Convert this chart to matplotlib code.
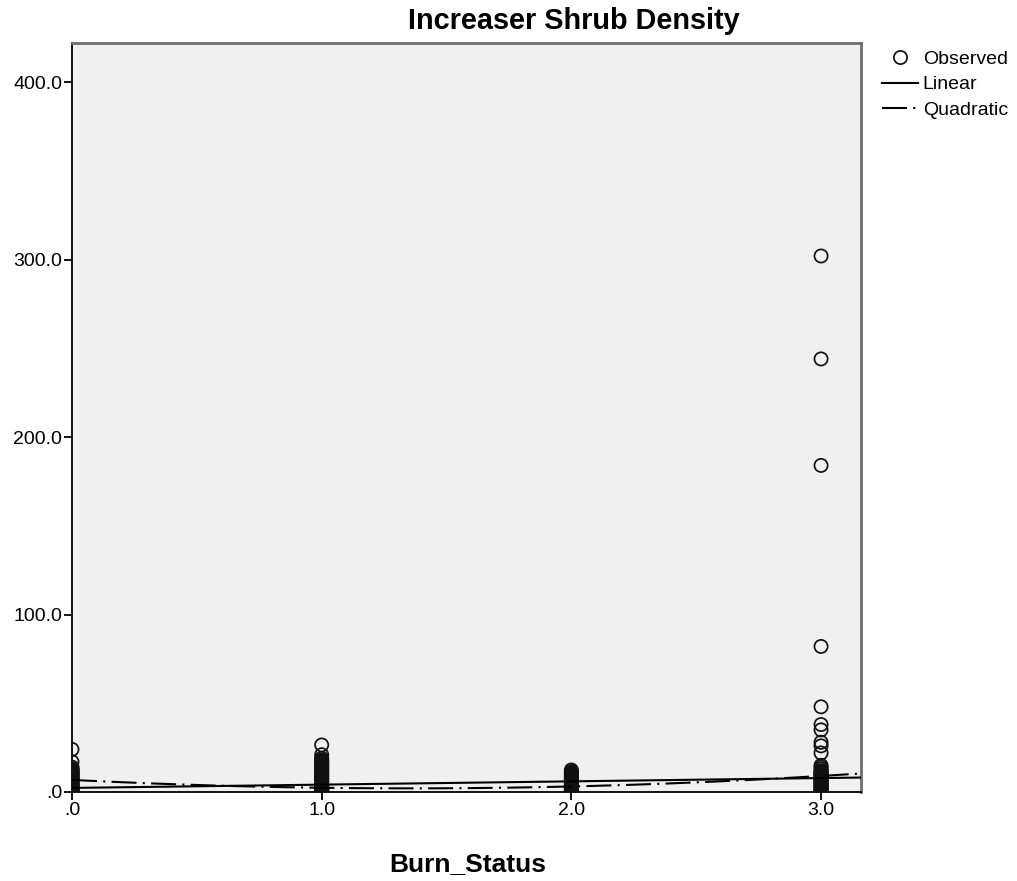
import numpy as np
import matplotlib
matplotlib.use("Agg")
import matplotlib.pyplot as plt
from matplotlib.lines import Line2D

plt.rcParams['font.family'] = ['Liberation Sans', 'DejaVu Sans']

# ---- data ----
burn_status = [0.0, 1.0, 2.0, 3.0]
obs_b0 = [0, 0.3, 0.6, 1, 1.3, 1.6, 2, 2.4, 2.8, 3, 3.5, 4, 4.5, 5, 5.5, 6, 6.5, 7, 7.5,
          8, 8.5, 9, 9.5, 10, 10.5, 11, 11.5, 12, 12.5, 13, 14, 17, 24]
obs_b1 = [0, 0.3, 0.6, 1, 1.3, 1.6, 2, 2.5, 3, 3.5, 4, 4.5, 5, 5.5, 6, 6.5, 7, 7.5, 8,
          8.5, 9, 9.5, 10, 10.5, 11, 11.5, 12, 12.5, 13, 13.5, 14, 14.5, 15, 15.5, 16,
          16.5, 17, 17.5, 18, 19, 21, 26.5]
obs_b2 = [0, 0.3, 0.6, 1, 1.5, 2, 2.5, 3, 3.5, 4, 4.5, 5, 5.5, 6, 6.5, 7, 7.5, 8, 8.5,
          9, 9.5, 10, 10.5, 11, 11.5, 12.4]
obs_b3 = [0, 0.3, 0.6, 1, 1.5, 2, 2.5, 3, 3.5, 4, 4.5, 5, 5.5, 6, 6.5, 7, 7.5, 8, 8.5,
          9, 9.5, 10, 10.5, 11, 11.5, 12, 13, 14, 15, 22, 26, 28, 35, 38,
          48, 82, 184, 244, 302]
linear_coef = [1.85, 2.3]          # slope, intercept
quadratic_coef = [2.58, -7.0, 6.8]  # x^2, x, const

x_ticks = [0, 1, 2, 3]
x_tick_labels = ['.0', '1.0', '2.0', '3.0']
y_ticks = [0, 100, 200, 300, 400]
y_tick_labels = ['.0', '100.0', '200.0', '300.0', '400.0']

W, H = 1017, 881
fig = plt.figure(figsize=(W / 100, H / 100), dpi=100)
fig.patch.set_facecolor('white')
left, right, top, bottom = 72, 861, 43, 792
ax = fig.add_axes([left / W, 1 - bottom / H, (right - left) / W, (bottom - top) / H])
ax.set_facecolor('#f0f0f0')

xmax = 3.16
ymax = 422.0
ax.set_xlim(0, xmax)
ax.set_ylim(0, ymax)

groups = [obs_b0, obs_b1, obs_b2, obs_b3]
for xv, vals in zip(burn_status, groups):
    ax.scatter([xv] * len(vals), vals, s=9.5 ** 2, facecolors='none',
               edgecolors='#111111', linewidths=1.25, zorder=3)

xs = np.linspace(0, xmax, 300)
ax.plot(xs, np.polyval(linear_coef, xs), color='black', lw=1.5, zorder=4)
ax.plot(xs, np.polyval(quadratic_coef, xs), color='black', lw=1.5,
        linestyle=(0, (12, 3, 1, 3)), zorder=4)

ax.set_xticks(x_ticks)
ax.set_xticklabels(x_tick_labels)
ax.set_yticks(y_ticks)
ax.set_yticklabels(y_tick_labels)
ax.tick_params(direction='out', length=6, width=1.3, labelsize=14,
               colors='black', pad=1)

for s in ['left', 'bottom']:
    ax.spines[s].set_color('black')
    ax.spines[s].set_linewidth(1.3)
for s in ['top', 'right']:
    ax.spines[s].set_color('#6e6e6e')
    ax.spines[s].set_linewidth(2)

fig.text(574 / W, 1 - 29 / H, 'Increaser Shrub Density', ha='center', va='baseline',
         fontsize=20.8, fontweight='bold')
fig.text(468 / W, 1 - 871 / H, 'Burn_Status', ha='center', va='baseline',
         fontsize=19, fontweight='bold')

handles = [
    Line2D([], [], linestyle='none', marker='o', markerfacecolor='none',
           markeredgecolor='#111111', markersize=9.5, markeredgewidth=1.25),
    Line2D([], [], color='black', lw=1.5),
    Line2D([], [], color='black', lw=1.5, linestyle=(0, (12, 3, 1, 3))),
]
fig.legend(handles, ['Observed', 'Linear', 'Quadratic'], loc='upper left',
           bbox_to_anchor=(882 / W, 1 - 50 / H), frameon=False, fontsize=14,
           handlelength=1.85, handletextpad=0.25, labelspacing=0.42,
           borderpad=0, borderaxespad=0)

fig.savefig('out.png', dpi=100)
